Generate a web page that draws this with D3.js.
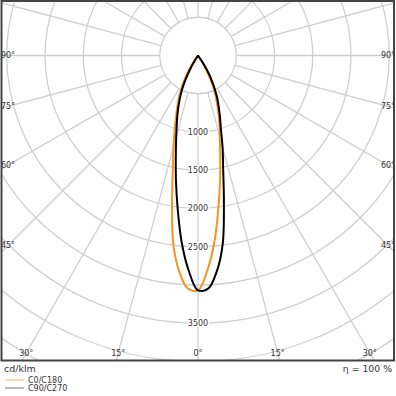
<!DOCTYPE html>
<html lang="en">
<head>
  <meta charset="utf-8">
    <title>Polar light distribution</title>
    <script type="text/javascript" src="https://d3js.org/d3.v7.min.js"></script>
    <style type="text/css">
      body { margin: 0; background: #fff; }
      text { font-family: "DejaVu Sans", sans-serif; fill: #333; }
    </style>
</head>
<body>
  <script type="text/javascript">

        // angles from nadir in degrees, negative = left half
        var angles = [-36, -33.5, -30, -25, -20, -15, -12.5, -10, -7.5, -5, -2.5, 0, 2.5, 5, 7.5, 10, 12.5, 15, 17.5, 20, 25, 30, 33.5, 36];
        // cd/klm
        var c0c180 = [0, 130, 320, 575, 835, 1240, 1520, 1950, 2480, 2830, 3050, 3070, 2810, 2450, 2030, 1660, 1340, 1100, 930, 770, 500, 200, 0, 0];
        var c90c270 = [0, 0, 200, 500, 770, 1100, 1340, 1660, 2030, 2450, 2810, 3070, 3050, 2830, 2480, 1950, 1520, 1240, 990, 835, 575, 320, 130, 0];

        var ringValues = [500, 1000, 1500, 2000, 2500, 3000, 3500, 4000, 4500, 5000];
        var ringLabels = [1000, 1500, 2000, 2500, 3500];
        var angleTicks = [-90, -75, -60, -45, -30, -15, 0, 15, 30, 45, 60, 75, 90];

        var width = 396, height = 396;
        var box = {x: 1.5, y: 1, w: 392.5, h: 359.5};
        var cx = 198, cy = 55.5;

        var r = d3.scaleLinear().domain([0, 500]).range([0, 38.25]);

        var svg = d3.select("body")
            .append("svg")
            .attr("width", width)
            .attr("height", height);

        svg.append("clipPath")
            .attr("id", "plot")
            .append("rect")
            .attr("x", box.x).attr("y", box.y)
            .attr("width", box.w).attr("height", box.h);

        var plot = svg.append("g")
            .attr("clip-path", "url(#plot)")
            .append("g")
            .attr("transform", "translate(" + cx + "," + cy + ")");

        // rings
        plot.selectAll(".ring")
            .data(ringValues)
            .enter()
            .append("circle")
            .attr("r", function(d) { return r(d); })
            .attr("fill", "none")
            .attr("stroke", "#cfcfcf")
            .attr("stroke-width", 1.3);

        // spokes every 15 deg
        plot.selectAll(".spoke")
            .data(d3.range(0, 360, 15))
            .enter()
            .append("line")
            .attr("x1", function(d) { return r(500) * Math.sin(d * Math.PI / 180); })
            .attr("y1", function(d) { return r(500) * Math.cos(d * Math.PI / 180); })
            .attr("x2", function(d) { return r(7000) * Math.sin(d * Math.PI / 180); })
            .attr("y2", function(d) { return r(7000) * Math.cos(d * Math.PI / 180); })
            .attr("stroke", "#cfcfcf")
            .attr("stroke-width", 1.3);

        var line = d3.lineRadial()
            .angle(function(d) { return Math.PI - d[0] * Math.PI / 180; })
            .radius(function(d) { return r(d[1]); })
            .curve(d3.curveCatmullRom);

        plot.append("path")
            .datum(angles.map(function(a, i) { return [a, c0c180[i]]; }))
            .attr("d", line)
            .attr("fill", "none")
            .attr("stroke", "#f7941d")
            .attr("stroke-width", 2);

        plot.append("path")
            .datum(angles.map(function(a, i) { return [a, c90c270[i]]; }))
            .attr("d", line)
            .attr("fill", "none")
            .attr("stroke", "#000")
            .attr("stroke-width", 2);

        // ring labels along 0 deg
        plot.selectAll(".rlabel")
            .data(ringLabels)
            .enter()
            .append("text")
            .attr("x", 0)
            .attr("y", function(d) { return r(d); })
            .attr("dy", "0.35em")
            .attr("text-anchor", "middle")
            .attr("font-size", 8)
            .attr("stroke", "#fff")
            .attr("stroke-width", 2.5)
            .attr("paint-order", "stroke")
            .text(function(d) { return d; });

        // angle labels where the spokes meet an inset frame
        var inset = {l: 8 - cx, r: 388 - cx, b: 353 - cy};
        svg.selectAll(".alabel")
            .data(angleTicks)
            .enter()
            .append("text")
            .attr("transform", function(d) {
                var t = d * Math.PI / 180;
                var sx = Math.sin(t), sy = Math.cos(t);
                var k = Infinity;
                if (sx < -1e-9) k = Math.min(k, inset.l / sx);
                if (sx > 1e-9) k = Math.min(k, inset.r / sx);
                if (sy > 1e-9) k = Math.min(k, inset.b / sy);
                return "translate(" + (cx + k * sx) + "," + (cy + k * sy) + ")";
            })
            .attr("dy", "0.35em")
            .attr("text-anchor", "middle")
            .attr("font-size", 8)
            .text(function(d) { return Math.abs(d) + "°"; });

        svg.append("rect")
            .attr("x", box.x).attr("y", box.y)
            .attr("width", box.w).attr("height", box.h)
            .attr("fill", "none")
            .attr("stroke", "#444")
            .attr("stroke-width", 2);

        svg.append("text")
            .attr("x", 4).attr("y", 372)
            .attr("font-size", 9.5)
            .text("cd/klm");

        svg.append("text")
            .attr("x", 392).attr("y", 372)
            .attr("text-anchor", "end")
            .attr("font-size", 9.3)
            .text("η = 100 %");

        var legend = [
            {name: "C0/C180", color: "#f7b066", y: 380},
            {name: "C90/C270", color: "#777", y: 388}
        ];
        var lg = svg.selectAll(".legend")
            .data(legend)
            .enter()
            .append("g");
        lg.append("line")
            .attr("x1", 5).attr("x2", 24)
            .attr("y1", function(d) { return d.y; })
            .attr("y2", function(d) { return d.y; })
            .attr("stroke", function(d) { return d.color; })
            .attr("stroke-width", 1);
        lg.append("text")
            .attr("x", 28)
            .attr("y", function(d) { return d.y; })
            .attr("dy", "0.35em")
            .attr("font-size", 8)
            .text(function(d) { return d.name; });

  </script>
</body>
</html>
